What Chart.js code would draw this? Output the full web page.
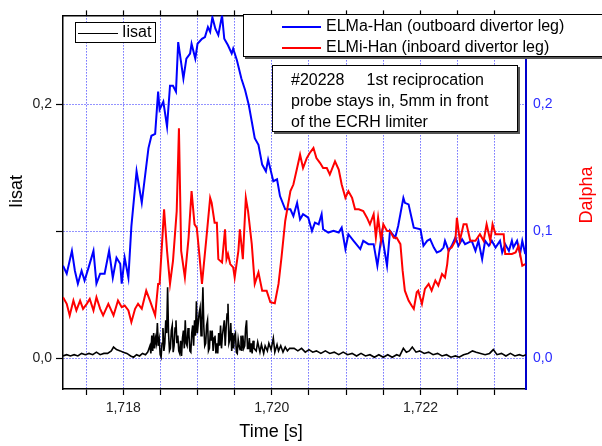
<!DOCTYPE html>
<html><head><meta charset="utf-8">
<script src="https://cdn.jsdelivr.net/npm/chart.js@4.4.1/dist/chart.umd.min.js"></script>
<style>html,body{margin:0;padding:0;background:#fff;}canvas{display:block;}</style>
</head><body>
<canvas id="c" width="602" height="446"></canvas>
<script>
// ---------- data ----------
const SERIES_NAMES = ["Iisat", "ELMa-Han (outboard divertor leg)", "ELMi-Han (inboard divertor leg)"];
const X_TITLE = "Time [s]";
const Y_TITLE = "Iisat";
const Y2_TITLE = "Dalpha";
const NOTE_LINES = ["#20228     1st reciprocation", "probe stays in, 5mm in front", "of the ECRH limiter"];
const X_MIN = 1.71719, X_MAX = 1.72342;
const Y_MIN = -0.024, Y_MAX = 0.27;
const X_MAJOR_LABELS = [1.718, 1.720, 1.722];
const Y_LEFT_LABELS = [0.0, 0.2];
const Y_RIGHT_LABELS = [0.0, 0.1, 0.2];

const BLUE_T = [1.71719,1.71724,1.71731,1.71735,1.71739,1.71744,1.71748,1.71753,1.71760,1.71764,1.71769,1.71775,1.71781,1.71786,1.71791,1.71796,1.71798,1.71802,1.71807,1.71811,1.71818,1.71825,1.71834,1.71838,1.71843,1.71847,1.71849,1.71854,1.71859,1.71863,1.71867,1.71871,1.71874,1.71881,1.71885,1.71890,1.71892,1.71897,1.71900,1.71906,1.71910,1.71914,1.71917,1.71920,1.71924,1.71928,1.71933,1.71936,1.71941,1.71946,1.71948,1.71953,1.71959,1.71964,1.71969,1.71973,1.71977,1.71982,1.71987,1.71992,1.71995,1.72002,1.72007,1.72011,1.72018,1.72025,1.72029,1.72034,1.72038,1.72042,1.72049,1.72054,1.72058,1.72063,1.72067,1.72069,1.72076,1.72083,1.72090,1.72094,1.72099,1.72103,1.72110,1.72119,1.72123,1.72130,1.72137,1.72142,1.72148,1.72155,1.72159,1.72166,1.72170,1.72177,1.72179,1.72184,1.72188,1.72191,1.72200,1.72204,1.72209,1.72213,1.72218,1.72222,1.72227,1.72231,1.72233,1.72238,1.72242,1.72247,1.72251,1.72256,1.72260,1.72269,1.72274,1.72278,1.72283,1.72287,1.72292,1.72296,1.72301,1.72307,1.72310,1.72314,1.72319,1.72323,1.72325,1.72330,1.72334,1.72337,1.72341];
const BLUE_V = [0.073,0.0667,0.0847,0.0691,0.0589,0.0691,0.0613,0.0707,0.0847,0.0589,0.0667,0.0667,0.0847,0.0636,0.0793,0.0746,0.0589,0.0793,0.0636,0.104,0.1473,0.1225,0.1656,0.1753,0.1768,0.21,0.1958,0.2021,0.1825,0.2146,0.2146,0.21,0.249,0.2203,0.236,0.24,0.2477,0.236,0.2477,0.2516,0.253,0.2608,0.257,0.2686,0.2595,0.2545,0.27,0.2516,0.2465,0.24,0.2438,0.2347,0.2203,0.2113,0.1995,0.1865,0.1734,0.1682,0.1526,0.1473,0.1565,0.1395,0.141,0.1278,0.1174,0.1174,0.1121,0.1225,0.1095,0.1135,0.1108,0.1004,0.1069,0.1056,0.1135,0.1017,0.0991,0.1004,0.0991,0.103,0.0861,0.0978,0.0926,0.0861,0.0926,0.09,0.09,0.073,0.0978,0.073,0.1004,0.0952,0.1043,0.1264,0.1225,0.1213,0.1108,0.103,0.1017,0.0887,0.0926,0.0939,0.0873,0.0834,0.0847,0.0873,0.0926,0.0847,0.0887,0.0952,0.0887,0.0939,0.09,0.0926,0.0847,0.0926,0.0782,0.0926,0.0887,0.0926,0.0873,0.0926,0.0834,0.09,0.0847,0.0926,0.0873,0.0926,0.0822,0.0926,0.0822];

const RED_T = [1.71719,1.71724,1.71728,1.71733,1.71737,1.71742,1.71746,1.71751,1.71755,1.71760,1.71764,1.71769,1.71773,1.71780,1.71787,1.71793,1.71798,1.71802,1.71807,1.71811,1.71816,1.71820,1.71825,1.71831,1.71836,1.71843,1.71847,1.71849,1.71855,1.71859,1.71863,1.71867,1.71872,1.71875,1.71878,1.71883,1.71888,1.71892,1.71896,1.71899,1.71902,1.71906,1.71912,1.71917,1.71919,1.71923,1.71926,1.71928,1.71933,1.71937,1.71939,1.71941,1.71944,1.71948,1.71950,1.71955,1.71957,1.71961,1.71965,1.71968,1.71973,1.71977,1.71982,1.71987,1.71993,1.71998,1.72004,1.72009,1.72013,1.72018,1.72025,1.72029,1.72034,1.72038,1.72042,1.72047,1.72051,1.72056,1.72060,1.72065,1.72069,1.72074,1.72078,1.72085,1.72090,1.72094,1.72099,1.72103,1.72108,1.72112,1.72117,1.72123,1.72128,1.72132,1.72137,1.72140,1.72143,1.72147,1.72150,1.72155,1.72159,1.72164,1.72168,1.72173,1.72176,1.72179,1.72184,1.72188,1.72191,1.72195,1.72197,1.72202,1.72206,1.72211,1.72215,1.72220,1.72224,1.72229,1.72233,1.72236,1.72238,1.72242,1.72247,1.72249,1.72253,1.72258,1.72262,1.72267,1.72274,1.72280,1.72285,1.72289,1.72294,1.72297,1.72301,1.72312,1.72314,1.72323,1.72328,1.72332,1.72337,1.72341];
const RED_V = [0.0482,0.043,0.0339,0.0456,0.0378,0.0456,0.0391,0.043,0.0469,0.0378,0.0482,0.0391,0.0339,0.043,0.0339,0.0456,0.0404,0.0417,0.0378,0.0286,0.0391,0.043,0.0391,0.0534,0.0456,0.0339,0.0587,0.0587,0.1174,0.0847,0.0587,0.0769,0.116,0.1812,0.0847,0.0638,0.0951,0.1317,0.1056,0.103,0.0847,0.0587,0.0951,0.1264,0.1225,0.1069,0.1069,0.0782,0.0756,0.1017,0.0782,0.0822,0.0743,0.0717,0.0638,0.0847,0.1017,0.0782,0.1264,0.116,0.09,0.0587,0.0678,0.0534,0.0534,0.0443,0.0435,0.0587,0.0795,0.1082,0.1317,0.1369,0.1499,0.1604,0.1499,0.1577,0.1617,0.1656,0.1577,0.1538,0.1499,0.1499,0.1448,0.1552,0.1487,0.1369,0.1264,0.1317,0.1264,0.1174,0.1174,0.116,0.1108,0.1056,0.1135,0.0951,0.1108,0.0926,0.1056,0.1004,0.1004,0.0951,0.0951,0.09,0.0691,0.0534,0.0456,0.0417,0.0391,0.0521,0.0534,0.043,0.0548,0.0587,0.0534,0.0613,0.0574,0.0665,0.0638,0.0743,0.0861,0.0873,0.0926,0.1108,0.0926,0.1056,0.1056,0.0926,0.0926,0.0978,0.0926,0.1056,0.0926,0.1056,0.0978,0.0978,0.0822,0.0822,0.0834,0.0887,0.073,0.0743];

// Iisat (black) : quiet start, noisy burst, quiet tail
const BLACK_T = [
1.71719,1.71724,1.71729,1.71734,1.71739,1.71744,1.71749,1.71754,1.71759,1.71764,1.71769,1.71774,1.71779,1.71784,1.71787,1.71791,1.71796,1.71800,1.71805,1.71810,1.71814,1.71818,1.71822,1.71826,1.71830,1.71833,
1.7183600,1.7183725,1.7183850,1.7183975,1.7184100,1.7184225,1.7184350,1.7184475,1.7184600,1.7184725,
1.7184850,1.7184975,1.7185100,1.7185225,1.7185350,1.7185475,1.7185600,1.7185725,1.7185850,1.7185975,
1.7186100,1.7186225,1.7186350,1.7186475,1.7186600,1.7186725,1.7186850,1.7186975,1.7187100,1.7187225,
1.7187350,1.7187475,1.7187600,1.7187725,1.7187850,1.7187975,1.7188100,1.7188225,1.7188350,1.7188475,
1.7188600,1.7188725,1.7188850,1.7188975,1.7189100,1.7189225,1.7189350,1.7189475,1.7189600,1.7189725,
1.7189850,1.7189975,1.7190100,1.7190225,1.7190350,1.7190475,1.7190600,1.7190725,1.7190850,1.7190975,
1.7191100,1.7191225,1.7191350,1.7191475,1.7191600,1.7191725,1.7191850,1.7191975,1.7192100,1.7192225,
1.7192350,1.7192475,1.7192600,1.7192725,1.7192850,1.7192975,1.7193100,1.7193225,1.7193350,1.7193475,
1.7193600,1.7193725,1.7193850,1.7193975,1.7194100,1.7194225,1.7194350,1.7194475,1.7194600,1.7194725,
1.7194850,1.7194975,1.7195100,1.7195225,1.7195350,1.7195475,1.7195600,1.7195725,1.7195850,1.7195975,
1.7196100,1.7196225,1.7196350,1.7196475,1.7196600,1.7196725,1.7196850,1.7196975,1.7197100,1.7197225,
1.7197350,1.7197475,1.7197600,
1.71979,1.71981,1.71984,1.71986,1.71989,1.71991,1.71994,1.71996,1.71999,1.72002,1.72004,1.72007,1.72009,1.72012,1.72015,1.72018,1.72021,1.72024,
1.72030,1.72035,1.72040,1.72045,1.72050,1.72055,1.72060,1.72066,1.72072,1.72078,1.72084,1.72090,1.72096,1.72102,1.72108,1.72114,1.72120,1.72126,1.72132,1.72138,1.72144,1.72150,1.72156,1.72162,1.72168,1.72172,1.72177,1.72181,1.72185,1.72189,1.72194,1.72199,1.72205,1.72211,1.72217,1.72223,1.72229,1.72235,1.72241,1.72247,1.72252,1.72258,1.72264,1.72270,1.72275,1.72281,1.72287,1.72293,1.72298,1.72303,1.72309,1.72315,1.72321,1.72327,1.72333,1.72338,1.72342];
const BLACK_V = [
0.002,0.003,0.002,0.003,0.002,0.004,0.003,0.004,0.003,0.005,0.003,0.004,0.004,0.006,0.009,0.007,0.006,0.005,0.004,0.002,0.001,0.003,0.002,0.004,0.003,0.005,
0.010,0.004,0.018,0.006,0.020,0.008,0.016,0.012,0.028,0.010,
0.015,0.003,0.001,0.012,0.024,0.006,0.012,0.030,0.020,0.056,
0.020,0.006,0.008,0.022,0.026,0.005,0.010,0.024,0.030,0.012,
0.018,0.006,0.004,0.014,0.002,0.016,0.022,0.008,0.030,0.012,
0.010,0.024,0.019,0.006,0.005,0.020,0.026,0.010,0.030,0.018,
0.045,0.020,0.028,0.036,0.040,0.018,0.030,0.056,0.025,0.010,
0.012,0.026,0.030,0.006,0.008,0.022,0.014,0.022,0.006,0.016,
0.018,0.004,0.012,0.004,0.020,0.010,0.026,0.008,0.018,0.024,
0.030,0.010,0.024,0.035,0.043,0.012,0.015,0.028,0.006,0.020,
0.008,0.018,0.020,0.005,0.004,0.015,0.010,0.007,0.018,0.006,
0.018,0.008,0.010,0.024,0.030,0.008,0.008,0.016,0.005,0.012,
0.004,0.014,0.008,
0.006,0.013,0.005,0.011,0.004,0.010,0.006,0.012,0.007,0.016,0.005,0.011,0.006,0.010,0.005,0.009,0.006,0.008,
0.008,0.006,0.008,0.005,0.007,0.005,0.006,0.004,0.006,0.004,0.005,0.003,0.005,0.003,0.004,0.002,0.004,0.002,0.003,0.001,0.003,0.001,0.003,0.001,0.003,0.002,0.008,0.005,0.006,0.009,0.005,0.006,0.004,0.005,0.003,0.004,0.002,0.003,0.001,0.002,0.001,0.003,0.004,0.006,0.005,0.004,0.003,0.004,0.007,0.003,0.004,0.002,0.004,0.002,0.003,0.002,0.003];

// ---------- chart ----------
const FONT = '"Liberation Sans", Arial, sans-serif';
Chart.defaults.font.family = FONT;
const toXY = (T, V) => T.map((t, i) => ({x: t, y: V[i]}));
const near = (a, b) => Math.abs(a - b) < 1e-7;
const comma = (v, d) => v.toFixed(d).replace('.', ',');
const GRID_BLUE = 'rgba(0,0,255,0.85)';

const overlay = {
  id: 'overlay',
  afterDraw(chart) {
    const ctx = chart.ctx;
    ctx.save();
    ctx.font = '18px ' + FONT;
    ctx.textAlign = 'center';
    ctx.textBaseline = 'middle';
    ctx.fillStyle = '#000';
    ctx.fillText(X_TITLE, 271, 432);
    ctx.save(); ctx.translate(17.5, 191.5); ctx.rotate(-Math.PI / 2); ctx.fillText(Y_TITLE, 0, 0); ctx.restore();
    ctx.fillStyle = '#ff0000';
    ctx.save(); ctx.translate(587, 195); ctx.rotate(-Math.PI / 2); ctx.fillText(Y2_TITLE, 0, 0); ctx.restore();

    const box = (x, y, w, h, shadow) => {
      ctx.fillStyle = '#fff';
      ctx.fillRect(x, y, w, h);
      ctx.strokeStyle = '#000'; ctx.lineWidth = 1;
      ctx.strokeRect(x + 0.5, y + 0.5, w, h);
      if (shadow) {
        ctx.strokeStyle = '#555'; ctx.lineWidth = 2;
        ctx.beginPath();
        ctx.moveTo(x + 2, y + h + 2); ctx.lineTo(x + w + 2, y + h + 2); ctx.lineTo(x + w + 2, y + 2);
        ctx.stroke();
      }
    };
    const sample = (x1, x2, y, color, w) => {
      ctx.strokeStyle = color; ctx.lineWidth = w;
      ctx.beginPath(); ctx.moveTo(x1, y); ctx.lineTo(x2, y); ctx.stroke();
    };
    ctx.textAlign = 'left';
    ctx.font = '16px ' + FONT;

    box(75, 22, 80, 20, false);
    sample(78, 118, 33.5, '#000', 1);
    ctx.fillStyle = '#000';
    ctx.fillText(SERIES_NAMES[0], 122, 33);

    box(243, 14, 380, 42, true);
    sample(282, 321, 27, '#0000ff', 2);
    sample(282, 321, 48, '#ff0000', 2);
    ctx.fillStyle = '#000';
    ctx.fillText(SERIES_NAMES[1], 326, 27);
    ctx.fillText(SERIES_NAMES[2], 326, 48);

    box(272, 65, 245, 66, true);
    ctx.fillStyle = '#000';
    NOTE_LINES.forEach((s, i) => ctx.fillText(s, 291, 81 + i * 21));
    ctx.restore();
  }
};

new Chart(document.getElementById('c'), {
  type: 'line',
  data: {
    datasets: [
      {label: SERIES_NAMES[2], data: toXY(RED_T, RED_V), borderColor: '#ff0000', borderWidth: 2, xAxisID: 'x', yAxisID: 'y2'},
      {label: SERIES_NAMES[1], data: toXY(BLUE_T, BLUE_V), borderColor: '#0000ff', borderWidth: 2, xAxisID: 'x', yAxisID: 'y2'},
      {label: SERIES_NAMES[0], data: toXY(BLACK_T, BLACK_V), borderColor: '#000000', borderWidth: 1.6, xAxisID: 'x', yAxisID: 'y'}
    ]
  },
  options: {
    responsive: false,
    animation: false,
    devicePixelRatio: 1,
    layout: {padding: 0},
    plugins: {legend: {display: false}, tooltip: {enabled: false}},
    elements: {point: {radius: 0}, line: {tension: 0, fill: false}},
    scales: {
      x: {
        type: 'linear', position: 'bottom', min: X_MIN, max: X_MAX,
        afterFit(s) { s.height = 57; },
        ticks: {
          stepSize: 0.0005, includeBounds: false, autoSkip: false, maxRotation: 0, maxTicksLimit: 50,
          color: '#222', font: {size: 14}, padding: 5,
          callback: v => X_MAJOR_LABELS.some(m => near(m, v)) ? comma(v, 3) : ''
        },
        grid: {color: GRID_BLUE, lineWidth: 1, tickColor: '#000', tickLength: 6, tickWidth: 1.2},
        border: {color: '#000', width: 1.5, dash: [1, 2]}
      },
      xTop: {
        type: 'linear', position: 'top', min: X_MIN, max: X_MAX,
        afterFit(s) { s.height = 14; },
        ticks: {stepSize: 0.0005, includeBounds: false, autoSkip: false, maxRotation: 0, maxTicksLimit: 50, callback: () => ''},
        grid: {drawOnChartArea: false, color: '#000', tickColor: '#000', tickLength: 5, tickWidth: 1.2},
        border: {color: '#000', width: 1.5}
      },
      y: {
        type: 'linear', position: 'left', min: Y_MIN, max: Y_MAX,
        afterFit(s) { s.width = 63; },
        ticks: {
          stepSize: 0.1, includeBounds: false, color: '#222', font: {size: 14}, padding: 4,
          callback: v => Y_LEFT_LABELS.some(m => near(m, v)) ? comma(v, 1) : ''
        },
        grid: {color: GRID_BLUE, lineWidth: 1, tickColor: '#000', tickLength: 7, tickWidth: 1.2},
        border: {color: '#000', width: 1.5, dash: [1, 2]}
      },
      y2: {
        type: 'linear', position: 'right', min: Y_MIN, max: Y_MAX,
        afterFit(s) { s.width = 76; },
        ticks: {
          stepSize: 0.1, includeBounds: false, color: '#2a2aff', font: {size: 14}, padding: 7,
          callback: v => Y_RIGHT_LABELS.some(m => near(m, v)) ? comma(v, 1) : ''
        },
        grid: {drawOnChartArea: false, drawTicks: false},
        border: {color: '#0000cc', width: 2}
      }
    }
  },
  plugins: [overlay]
});
</script>
</body></html>
